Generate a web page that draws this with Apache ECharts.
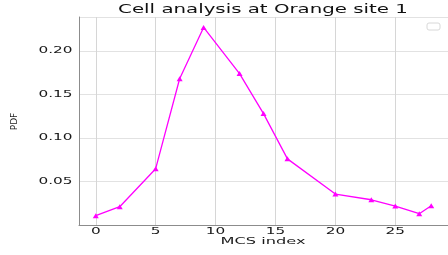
<!DOCTYPE html>
<html>
<head>
<meta charset="utf-8">
<script src="https://cdn.jsdelivr.net/npm/echarts@6/dist/echarts.min.js"></script>
<style>
  html, body { margin: 0; padding: 0; background: #fff; }
  #chart { width: 448px; height: 255px; }
</style>
</head>
<body>
<div id="chart"></div>
<script>
// MCS index vs PDF
const mcsIndex = [0, 2, 5, 7, 9, 12, 14, 16, 20, 23, 25, 27, 28];
const pdfValues = [0.0107, 0.021, 0.0647, 0.168, 0.227, 0.174, 0.128, 0.076, 0.0356, 0.029, 0.0218, 0.013, 0.0222];
const xTicks = [0, 5, 10, 15, 20, 25];
const yTicks = [0.05, 0.10, 0.15, 0.20];

const titleText = 'Cell analysis at Orange site 1';
const xName = 'MCS index';
const yName = 'PDF';

const font = 'DejaVu Sans';
const chart = echarts.init(document.getElementById('chart'));

chart.setOption({
  animation: false,
  grid: { left: 79, right: 0, top: 17, bottom: 30 },
  xAxis: {
    type: 'value',
    min: -1.4,
    max: 29.4,
    axisLine: { onZero: false, lineStyle: { color: '#8c8c8c', width: 1 } },
    axisTick: { show: false },
    axisLabel: { show: false },
    splitLine: { show: true, lineStyle: { color: '#d6d6d6', width: 1 } }
  },
  yAxis: {
    type: 'value',
    min: 0,
    max: 0.239,
    interval: 0.05,
    axisLine: { show: true, onZero: false, lineStyle: { color: '#8c8c8c', width: 1 } },
    axisTick: { show: false },
    axisLabel: { show: false },
    splitLine: { show: true, lineStyle: { color: '#e2e2e2', width: 1 } }
  },
  // matplotlib text here is drawn wide, so the labels are stretched text elements
  graphic: [
    {
      id: 'title', type: 'text', x: 263, y: 10.5, scaleX: 1.72,
      style: { text: titleText, font: '11.5px "' + font + '"', fill: '#111', align: 'center', verticalAlign: 'middle' }
    },
    {
      id: 'xname', type: 'text', x: 263, y: 242, scaleX: 1.8,
      style: { text: xName, font: '9px "' + font + '"', fill: '#1a1a1a', align: 'center', verticalAlign: 'middle' }
    },
    {
      id: 'yname', type: 'text', x: 15, y: 121.5, rotation: Math.PI / 2,
      style: { text: yName, font: '9px "' + font + '"', fill: '#1a1a1a', align: 'center', verticalAlign: 'middle' }
    },
    {
      // empty legend frame
      id: 'legend', type: 'rect', shape: { x: 427, y: 23, width: 13, height: 7, r: 2 },
      style: { fill: '#fff', stroke: '#d8d8d8', lineWidth: 1 }
    }
  ],
  series: [{
    type: 'line',
    data: mcsIndex.map((x, i) => [x, pdfValues[i]]),
    symbol: 'triangle',
    symbolSize: [6, 5],
    lineStyle: { color: '#ff00ff', width: 1.3 },
    itemStyle: { color: '#ff00ff' }
  }]
});

const toPx = (v) => chart.convertToPixel({ gridIndex: 0 }, v);
const tickLabels = [];

xTicks.forEach((t, i) => {
  const p = toPx([t, 0]);
  tickLabels.push({
    id: 'xt' + i, type: 'text', x: p[0], y: 231.5, scaleX: 1.7,
    style: { text: String(t), font: '9px "' + font + '"', fill: '#1a1a1a', align: 'center', verticalAlign: 'middle' }
  });
});
yTicks.forEach((t, i) => {
  const p = toPx([0, t]);
  tickLabels.push({
    id: 'yt' + i, type: 'text', x: 72.5, y: p[1], scaleX: 1.7,
    style: { text: t.toFixed(2), font: '9px "' + font + '"', fill: '#1a1a1a', align: 'right', verticalAlign: 'middle' }
  });
});

chart.setOption({ graphic: tickLabels });
</script>
</body>
</html>
